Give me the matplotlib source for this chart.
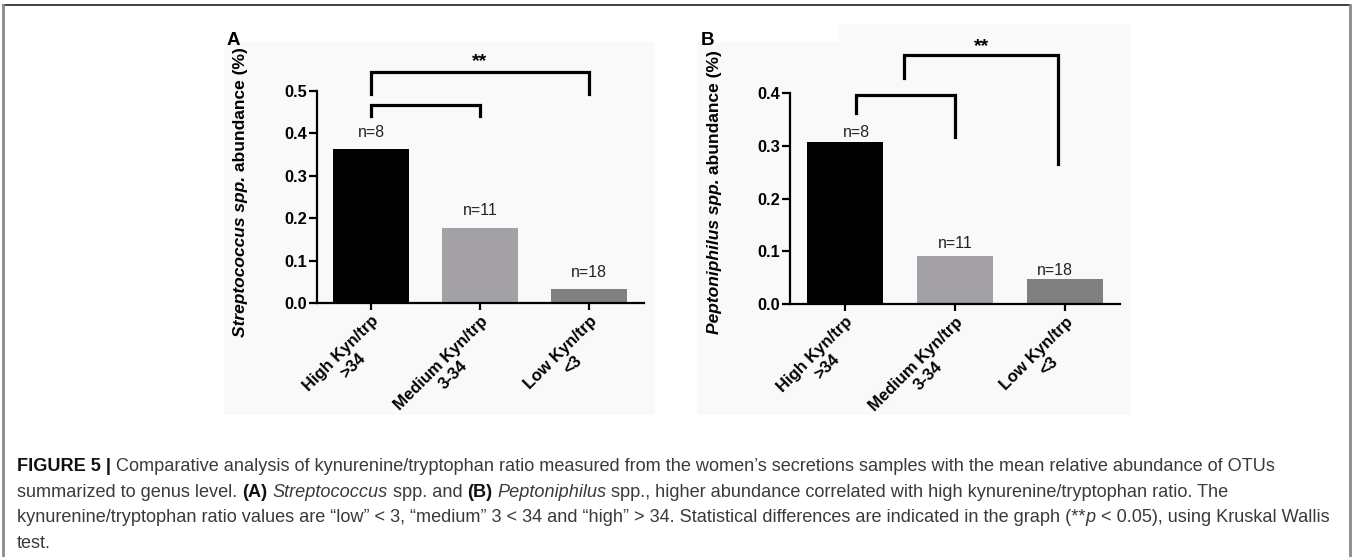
import matplotlib
matplotlib.use("Agg")
import matplotlib.pyplot as plt
from matplotlib.patches import Rectangle
from matplotlib.lines import Line2D

plt.rcParams['font.family'] = ['Liberation Sans', 'DejaVu Sans']

# data
groups = ["High Kyn/trp\n>34", "Medium Kyn/trp\n3-34", "Low Kyn/trp\n<3"]
strep_mean = [0.363, 0.177, 0.033]
pepto_mean = [0.307, 0.091, 0.047]
n_samples = [8, 11, 18]
bar_colors = ["#000000", "#a3a1a5", "#808080"]

# significance brackets: (x left, x right, y top, left leg end, right leg end)
strep_brackets = [(0, 2, 0.545, 0.493, 0.493), (0, 1, 0.467, 0.441, 0.441)]
pepto_brackets = [(0.1, 1.0, 0.396, 0.362, 0.317), (0.54, 1.94, 0.472, 0.428, 0.265)]
strep_star = (1.0, 0.559)
pepto_star = (1.24, 0.48)
pepto_n_x = [0.1, 1.0, 1.91]

W, H = 1352, 557
fig = plt.figure(figsize=(W / 100, H / 100), dpi=100, facecolor='white')
renderer = fig.canvas.get_renderer()


def fx(px):
    return px / W


def fy(py):
    return 1 - py / H


def run_len(txt, **kw):
    # width of a text run, spaces included
    a = fig.text(0, 0, '|' + txt + '|', **kw)
    b = fig.text(0, 0, '||', **kw)
    w = a.get_window_extent(renderer).width - b.get_window_extent(renderer).width
    a.remove()
    b.remove()
    return w


def put_runs(x, y, runs, size, rot=0):
    # runs: (text, weight, style, color)
    if rot == 0:
        for txt, wt, st, col in runs:
            kw = dict(fontsize=size, fontweight=wt, fontstyle=st)
            fig.text(fx(x), fy(y), txt, color=col, ha='left', va='baseline', **kw)
            x += run_len(txt, **kw)
    else:
        total = sum(run_len(r[0], fontsize=size, fontweight=r[1], fontstyle=r[2]) for r in runs)
        yy = y + total / 2
        for txt, wt, st, col in runs:
            kw = dict(fontsize=size, fontweight=wt, fontstyle=st)
            fig.text(fx(x), fy(yy), txt, color=col, ha='center', va='bottom', rotation=90, **kw)
            yy -= run_len(txt, **kw)


# panel backgrounds (behind the axes)
bg = "#f9f9f9"
for x0, x1, y0, y1 in [(224, 655, 42, 415), (697, 1131, 42, 415), (839, 1131, 24, 42)]:
    fig.patches.append(Rectangle((fx(x0), fy(y1)), fx(x1 - x0), (y1 - y0) / H,
                                 transform=fig.transFigure, facecolor=bg, edgecolor='none', zorder=-5))

# outer frame
fig.lines.append(Line2D([fx(3), fx(1350)], [fy(5), fy(5)], transform=fig.transFigure, color='#222222', lw=1.2))
fig.lines.append(Line2D([fx(3), fx(3)], [fy(5), fy(557)], transform=fig.transFigure, color='#8a8a8a', lw=2))
fig.lines.append(Line2D([fx(1350), fx(1350)], [fy(5), fy(557)], transform=fig.transFigure, color='#8a8a8a', lw=2))


def draw_panel(ax, means, ymax, brackets, star, n_x, n_off):
    ax.set_facecolor('none')
    x = range(len(groups))
    ax.bar(x, means, width=0.69, color=bar_colors, edgecolor='none')
    ax.set_xlim(-0.5, 2.5)
    ax.set_ylim(0, ymax)
    ax.set_yticks([i / 10 for i in range(int(round(ymax * 10)) + 1)])
    ax.yaxis.set_major_formatter(matplotlib.ticker.FormatStrFormatter('%.1f'))
    for s in ['top', 'right']:
        ax.spines[s].set_visible(False)
    for s in ['left', 'bottom']:
        ax.spines[s].set_linewidth(1.6)
    ax.tick_params(axis='y', length=6, width=1.6, pad=1, labelsize=11.8)
    ax.tick_params(axis='x', length=5, width=1.6, pad=2.5, labelsize=12)
    ax.set_xticks(list(x), groups)
    for lbl in ax.get_yticklabels():
        lbl.set_fontweight('bold')
    for lbl in ax.get_xticklabels():
        lbl.set_fontweight('bold')
        lbl.set_rotation(45)
        lbl.set_ha('right')
        lbl.set_va('top')
        lbl.set_rotation_mode('anchor')
        lbl.set_multialignment('center')
    for i, n in enumerate(n_samples):
        ax.annotate("n=%d" % n, (n_x[i], means[i]), xytext=(0, n_off[i]), textcoords='offset points',
                    ha='center', va='baseline', fontsize=11.5, color='#222222')
    for x0, x1, top, l_end, r_end in brackets:
        ax.plot([x0, x0, x1, x1], [l_end, top, top, r_end], color='black', lw=2.3,
                solid_joinstyle='miter', clip_on=False)
    ax.text(star[0], star[1], "**", ha='center', va='baseline', fontsize=14, fontweight='bold')


axA = fig.add_axes([fx(316.5), 1 - 303 / H, fx(327), 212 / H])
draw_panel(axA, strep_mean, 0.5, strep_brackets, strep_star, [0, 1, 2], [8.5, 9.5, 8.5])

axB = fig.add_axes([fx(790), 1 - 304 / H, fx(330), 211 / H])
draw_panel(axB, pepto_mean, 0.4, pepto_brackets, pepto_star, pepto_n_x, [3.5, 5.5, 3])

# panel letters
fig.text(fx(227), fy(45), "A", fontsize=13.5, fontweight='bold', ha='left', va='baseline')
fig.text(fx(701), fy(45), "B", fontsize=13.5, fontweight='bold', ha='left', va='baseline')

# y labels with italic genus names
put_runs(240, 192, [("Streptococcus spp.", 'bold', 'italic', 'black'),
                    (" abundance (%)", 'bold', 'normal', 'black')], 12.5, rot=90)
put_runs(714, 192, [("Peptoniphilus spp.", 'bold', 'italic', 'black'),
                    (" abundance (%)", 'bold', 'normal', 'black')], 12.5, rot=90)

# caption
cap = "#3a3a3a"
dark = "#111111"
cap_size = 13.1
put_runs(17, 471, [("FIGURE 5 | ", 'bold', 'normal', dark),
                   ("Comparative analysis of kynurenine/tryptophan ratio measured from the women\u2019s "
                    "secretions samples with the mean relative abundance of OTUs", 'normal', 'normal', cap)], cap_size)
put_runs(17, 497, [("summarized to genus level. ", 'normal', 'normal', cap),
                   ("(A)", 'bold', 'normal', dark),
                   (" ", 'normal', 'normal', cap),
                   ("Streptococcus", 'normal', 'italic', cap),
                   (" spp. and ", 'normal', 'normal', cap),
                   ("(B)", 'bold', 'normal', dark),
                   (" ", 'normal', 'normal', cap),
                   ("Peptoniphilus", 'normal', 'italic', cap),
                   (" spp., higher abundance correlated with high kynurenine/tryptophan ratio. The",
                    'normal', 'normal', cap)], cap_size)
put_runs(17, 522, [("kynurenine/tryptophan ratio values are \u201clow\u201d < 3, \u201cmedium\u201d 3 < 34 and "
                    "\u201chigh\u201d > 34. Statistical differences are indicated in the graph (**",
                    'normal', 'normal', cap),
                   ("p", 'normal', 'italic', cap),
                   (" < 0.05), using Kruskal Wallis", 'normal', 'normal', cap)], cap_size)
put_runs(17, 548, [("test.", 'normal', 'normal', cap)], cap_size)

fig.savefig("out.png", dpi=100, facecolor='white')
